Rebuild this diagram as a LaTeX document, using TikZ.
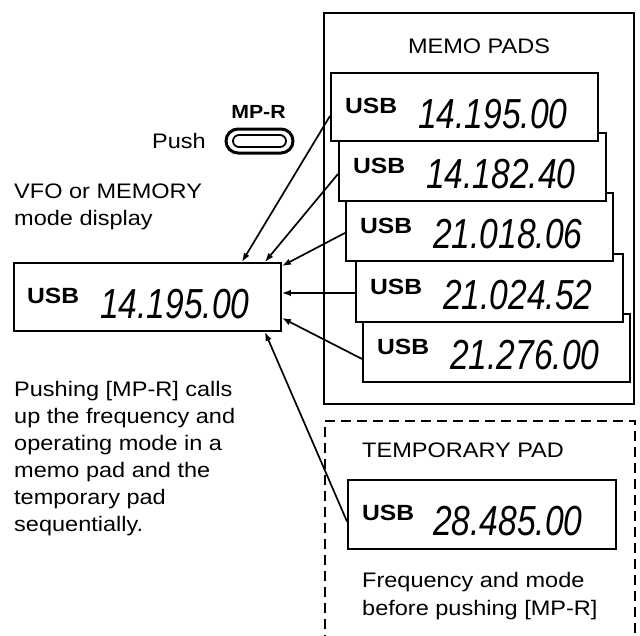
\documentclass[tikz,border=0pt]{standalone}
\usepackage{fontspec}
\setmainfont{Liberation Sans}[FakeStretch=1.12]
\newfontfamily\numfont{Liberation Sans}[FakeStretch=0.8]
\usetikzlibrary{arrows.meta}
\begin{document}
\begin{tikzpicture}[x=1pt,y=-1pt,
  disp/.style={draw, line width=1.9pt, fill=white, minimum width=267pt, minimum height=68pt, inner sep=0pt, anchor=north west},
  usb/.style={anchor=base west, inner sep=0pt, font=\fontsize{22}{22}\selectfont\bfseries},
  num/.style={anchor=base west, inner sep=0pt, font=\numfont\itshape\fontsize{42}{42}\selectfont},
  txt/.style={anchor=base west, inner sep=0pt, font=\fontsize{21}{28}\selectfont},
  arr/.style={line width=1.7pt, -{Latex[length=9pt,width=6.5pt]}},
  frame/.style={line width=2pt}]
\useasboundingbox (0,0) rectangle (640,635);

% memo pads frame
\draw[frame] (324,13) rectangle (634,404);
\node[txt, anchor=base] (memotitle) at (479,53) {MEMO PADS};

% temporary pad frame (dashed)
\draw[frame, dash pattern=on 10pt off 6pt] (325,645) -- (325,421) -- (635,421) -- (635,645);
\node[txt] (temptitle) at (362,457) {TEMPORARY PAD};

% pads, drawn back to front
\node[disp] (p5) at (362,313) {};
\node[usb] (u5) at (377,354) {USB};
\node[num] (n5) at (450,369) {21.276.00};

\node[disp] (p4) at (355,253) {};
\node[usb] (u4) at (370,294) {USB};
\node[num] (n4) at (443,309) {21.024.52};

\node[disp] (p3) at (345,192) {};
\node[usb] (u3) at (360,233) {USB};
\node[num] (n3) at (433,248) {21.018.06};

\node[disp] (p2) at (338,132) {};
\node[usb] (u2) at (353,173) {USB};
\node[num] (n2) at (426,188) {14.182.40};

\node[disp] (p1) at (330,72) {};
\node[usb] (u1) at (345,113) {USB};
\node[num] (n1) at (418,128) {14.195.00};

% temporary pad display
\node[disp, minimum width=268pt, minimum height=69pt] (tmp) at (347,479) {};
\node[usb] (ut) at (362,520) {USB};
\node[num] (nt) at (433,535) {28.485.00};
\node[txt] (f1) at (362,587) {Frequency and mode};
\node[txt] (f2) at (362,615) {before pushing [MP-R]};

% VFO display
\node[disp] (vfo) at (13,262) {};
\node[usb] (uv) at (27,303) {USB};
\node[num] (nv) at (100,318) {14.195.00};

% button
\node[txt] (push) at (152,148) {Push};
\node[inner sep=0pt, anchor=base, font=\fontsize{19}{19}\selectfont\bfseries] (mpr) at (258.5,118) {MP-R};
\node[draw, line width=3pt, rounded corners=12pt, minimum width=67pt, minimum height=24pt, inner sep=0pt] (btn) at (259.5,141) {};
\node[draw, line width=1.8pt, rounded corners=6pt, minimum width=53pt, minimum height=12pt, inner sep=0pt] (btnin) at (259.5,141) {};

% left texts
\node[txt] (v1) at (14,198) {VFO or MEMORY};
\node[txt] (v2) at (14,225) {mode display};

\node[txt] (l1) at (14,396) {Pushing [MP-R] calls};
\node[txt] (l2) at (14,423) {up the frequency and};
\node[txt] (l3) at (14,450) {operating mode in a};
\node[txt] (l4) at (14,477) {memo pad and the};
\node[txt] (l5) at (14,504) {temporary pad};
\node[txt] (l6) at (14,531) {sequentially.};

% arrows
\draw[arr] ([yshift=-9pt]p1.west) -- ([xshift=-40pt]vfo.north east);
\draw[arr] ([yshift=-7pt]p2.west) -- ([xshift=-17pt]vfo.north east);
\draw[arr] ([yshift=-6pt]p3.west) -- ([yshift=-4pt]vfo.north east);
\draw[arr] ([yshift=-5pt]p4.west) -- ([yshift=4pt]vfo.east);
\draw[arr] ([yshift=-11pt]p5.west) -- ([yshift=-21pt]vfo.east);
\draw[arr] ([yshift=-7pt]tmp.west) -- ([xshift=-17pt]vfo.south east);
\end{tikzpicture}
\end{document}
